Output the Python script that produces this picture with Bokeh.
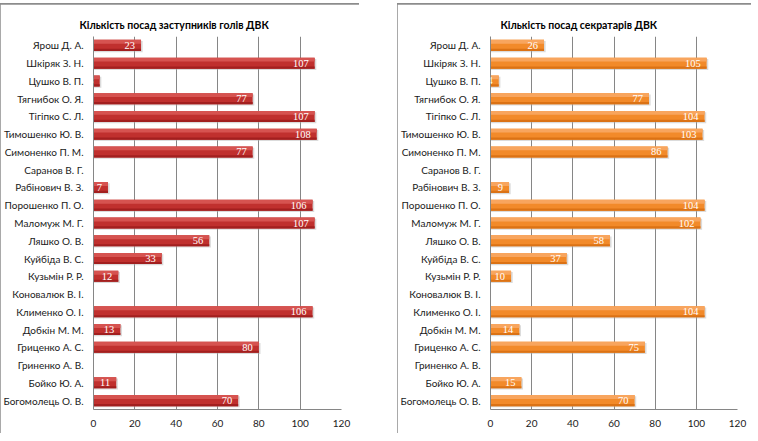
from bokeh.plotting import figure
from bokeh.layouts import row, column
from bokeh.models import ColumnDataSource, LabelSet, FixedTicker, Range1d
from bokeh.transform import dodge
from bokeh.embed import file_html
from bokeh.resources import INLINE

names = ["Ярош Д. А.", "Шкіряк З. Н.", "Цушко В. П.", "Тягнибок О. Я.", "Тігіпко С. Л.",
         "Тимошенко Ю. В.", "Симоненко П. М.", "Саранов В. Г.", "Рабінович В. З.",
         "Порошенко П. О.", "Маломуж М. Г.", "Ляшко О. В.", "Куйбіда В. С.",
         "Кузьмін Р. Р.", "Коновалюк В. І.", "Клименко О. І.", "Добкін М. М.",
         "Гриценко А. С.", "Гриненко А. В.", "Бойко Ю. А.", "Богомолець О. В."]
deputies = [23, 107, 3, 77, 107, 108, 77, 0, 7, 106, 107, 56, 33, 12, 0, 106, 13, 80, 0, 11, 70]
secretaries = [26, 105, 4, 77, 104, 103, 86, 0, 9, 104, 102, 58, 37, 10, 0, 104, 14, 75, 0, 15, 70]
x_ticks = [0, 20, 40, 60, 80, 100, 120]

title_left = "Кількість посад заступників голів ДВК"
title_right = "Кількість посад  секратарів ДВК"

FONT = "Lato"
GRAY = "#868686"
FRAME = "1px solid #8c8c8c"


def make_chart(title, values, base, light, dark, fw, b_left, b_right, t_offset):
    src = ColumnDataSource(dict(
        name=names,
        value=values,
        shadow=[v + 0.8 if v > 0 else 0 for v in values],
        label=[str(v) if v > 0 else "" for v in values],
    ))
    p = figure(frame_width=fw, frame_height=373, y_range=list(reversed(names)),
               x_range=Range1d(0, 120), output_backend="svg", toolbar_location=None,
               min_border_left=b_left, min_border_right=b_right,
               min_border_top=32, min_border_bottom=24)
    p.title.text = title
    p.title.text_font = FONT
    p.title.text_font_size = "10.5px"
    p.title.text_font_style = "bold"
    p.title.text_color = "#000000"
    p.title.align = "left"
    p.title.offset = t_offset
    p.title.standoff = 12
    p.outline_line_color = None
    p.background_fill_color = "white"
    p.border_fill_color = "white"

    p.hbar(y=dodge("name", -0.07, range=p.y_range), left=0, right="shadow", height=0.62,
           source=src, fill_color="#b0b0b0", fill_alpha=0.45, line_color=None)
    p.hbar(y="name", left=0, right="value", height=0.62, source=src,
           fill_color=base, line_color=None)
    p.hbar(y=dodge("name", 0.2, range=p.y_range), left=0, right="value", height=0.22,
           source=src, fill_color=light, line_color=None)
    p.hbar(y=dodge("name", -0.25, range=p.y_range), left=0, right="value", height=0.12,
           source=src, fill_color=dark, line_color=None)

    labels = LabelSet(x="value", y="name", text="label", source=src, x_offset=-6,
                      text_align="right", text_baseline="middle", text_color="white",
                      text_font=FONT, text_font_size="10.5px")
    p.add_layout(labels)

    p.xaxis.ticker = FixedTicker(ticks=x_ticks)
    p.xaxis.axis_line_color = GRAY
    p.xaxis.major_tick_line_color = None
    p.xaxis.minor_tick_line_color = None
    p.xaxis.major_tick_out = 0
    p.xaxis.minor_tick_out = 0
    p.xaxis.major_label_standoff = 10
    p.xaxis.major_label_text_font = FONT
    p.xaxis.major_label_text_font_size = "10px"
    p.xaxis.major_label_text_color = "#1a1a1a"

    p.yaxis.axis_line_color = GRAY
    p.yaxis.major_tick_line_color = None
    p.yaxis.minor_tick_line_color = None
    p.yaxis.major_tick_out = 0
    p.yaxis.minor_tick_out = 0
    p.yaxis.major_label_standoff = 10
    p.yaxis.major_label_text_font = FONT
    p.yaxis.major_label_text_font_size = "10px"
    p.yaxis.major_label_text_color = "#1a1a1a"

    p.xgrid.grid_line_color = GRAY
    p.xgrid.ticker = FixedTicker(ticks=x_ticks)
    p.ygrid.grid_line_color = None
    p.y_range.range_padding = 0
    p.styles = {"outline": "1px solid #8c8c8c", "outline-offset": "-1px"}
    return column(p, styles={"border-top": FRAME})


c1 = make_chart(title_left, deputies, "#C0302E", "#D65350", "#A21F1F", 248, 92, 18, -14)
c2 = make_chart(title_right, secretaries, "#F28A2A", "#F8A55E", "#DB7215", 247, 92, 14, 10)

layout = row(c1, c2, spacing=38)
layout.styles = {"margin-top": "3px"}
open("out.html", "w").write(file_html(layout, INLINE))
